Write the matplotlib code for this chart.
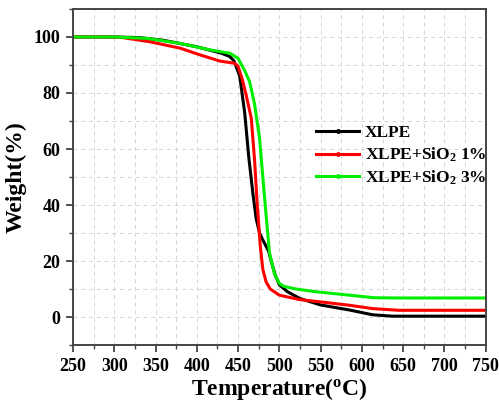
import numpy as np
import matplotlib
matplotlib.use("Agg")
from matplotlib import pyplot as plt
from matplotlib.lines import Line2D
from matplotlib.ticker import MultipleLocator

plt.rcParams['font.family'] = ['Liberation Serif', 'DejaVu Serif']
plt.rcParams['font.weight'] = 'bold'
plt.rcParams['mathtext.fontset'] = 'custom'
plt.rcParams['mathtext.rm'] = 'Liberation Serif:bold'
plt.rcParams['mathtext.it'] = 'Liberation Serif:bold'
plt.rcParams['mathtext.bf'] = 'Liberation Serif:bold'

# TGA curves (temperature in C, weight in %)
xlpe_t = [250, 300, 330, 360, 400, 430, 440, 445, 452, 458, 463, 468, 472, 476, 480,
          487, 492, 495, 500, 510, 525, 550, 585, 613, 637, 650, 700, 750]
xlpe_w = [100, 100, 99.8, 98.8, 96.5, 94.2, 93, 91.5, 86, 73, 57, 44, 35, 30, 27.5,
          23.5, 18, 15, 11.5, 9, 6.6, 4.3, 2.5, 0.8, 0.3, 0.3, 0.3, 0.3]

sio2_1_t = [250, 290, 310, 343, 380, 404, 428, 446, 450, 455, 460, 466, 470, 473, 477,
            480, 484, 489, 500, 525, 550, 585, 613, 645, 700, 750]
sio2_1_w = [100, 100, 99.8, 98.3, 96, 93.6, 91.4, 90.6, 89.5, 85, 79, 71, 56, 41, 25,
            17, 12.5, 10, 7.8, 6.2, 5.4, 4.2, 3, 2.4, 2.4, 2.4]

sio2_3_t = [250, 300, 340, 380, 416, 440, 450, 458, 464, 470, 476, 482, 488, 494, 500,
            505, 520, 545, 585, 614, 640, 700, 750]
sio2_3_w = [100, 100, 99.5, 97.7, 95.4, 94.2, 92.4, 88, 84, 76, 64, 43, 23, 15.5, 12,
            11, 10, 9, 7.8, 6.9, 6.8, 6.8, 6.8]

series = [
    ("XLPE", xlpe_t, xlpe_w, "black"),
    (r"XLPE+SiO$_2$ 1%", sio2_1_t, sio2_1_w, "red"),
    (r"XLPE+SiO$_2$ 3%", sio2_3_t, sio2_3_w, "#00ee00"),
]

fig = plt.figure(figsize=(4.99, 4.05), dpi=100)
ax = fig.add_axes([0.1463, 0.1481, 0.827, 0.8297])

handles = []
for label, t, w, color in series:
    ax.plot(t, w, color=color, linewidth=2.2)
    handles.append(Line2D([], [], color=color, linewidth=2.2, marker='o',
                          markersize=2.5, label=label))

ax.set_xlim(250, 750)
ax.set_ylim(-10, 110)
ax.xaxis.set_major_locator(MultipleLocator(50))
ax.xaxis.set_minor_locator(MultipleLocator(25))
ax.yaxis.set_minor_locator(MultipleLocator(10))
ax.set_yticks(np.arange(0, 101, 20))

ax.grid(which='both', linestyle=(0, (4, 4)), color='#d4d4d4', linewidth=0.7)
ax.set_axisbelow(True)

for sp in ax.spines.values():
    sp.set_color('#444444')
    sp.set_linewidth(1.4)

ax.tick_params(which='major', direction='out', length=5, width=1.3, color='#444444',
               labelsize=13, pad=4)
ax.tick_params(which='minor', direction='out', length=3, width=1.0, color='#444444')
for lbl in ax.get_xticklabels() + ax.get_yticklabels():
    lbl.set_fontweight('bold')

ax.set_xlabel(r"Temperature($^{\mathrm{o}}$C)", fontsize=17, fontweight='bold', labelpad=1)
ax.set_ylabel("Weight(%)", fontsize=17, fontweight='bold', labelpad=5)

leg = ax.legend(handles=handles, loc='upper left', bbox_to_anchor=(0.572, 0.675),
                frameon=False, fontsize=12.5, handlelength=2.5, handletextpad=0.3,
                labelspacing=0.25, borderaxespad=0)
for txt in leg.get_texts():
    txt.set_fontweight('bold')

fig.savefig("out.png", dpi=100)
